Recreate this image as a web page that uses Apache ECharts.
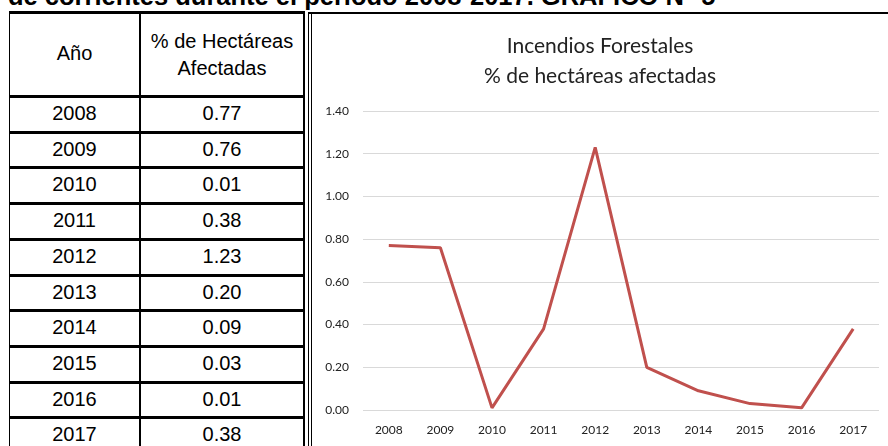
<!DOCTYPE html>
<html>
<head>
<meta charset="utf-8">
<script src="https://cdn.jsdelivr.net/npm/echarts@6/dist/echarts.min.js"></script>
<style>
  html, body { margin: 0; padding: 0; background: #fff; }
  body { width: 888px; height: 446px; position: relative; overflow: hidden; font-family: "Liberation Sans", Arial, sans-serif; }
  .abs { position: absolute; }
  .hline { position: absolute; background: #000; height: 3px; left: 9px; width: 296px; }
  .cell { position: absolute; text-align: center; font-size: 20px; color: #000; }
  #chart { position: absolute; left: 312px; top: 14px; width: 576px; height: 432px; }
</style>
</head>
<body>
<div class="abs" style="left:8px;top:-18px;font-size:25.5px;font-weight:bold;white-space:nowrap;">de corrientes durante el periodo 2008-2017. GRÁFICO N° 5</div>
<div id="table"></div>
<div class="abs" style="left:309px;top:12px;width:579px;height:2px;background:#000;"></div>
<div class="abs" style="left:308px;top:12px;width:1px;height:434px;background:#000;"></div>
<div class="abs" style="left:311px;top:12px;width:1px;height:434px;background:#000;"></div>
<div id="chart"></div>
<script>
const years = ['2008', '2009', '2010', '2011', '2012', '2013', '2014', '2015', '2016', '2017']
const pctAfectadas = [0.77, 0.76, 0.01, 0.38, 1.23, 0.20, 0.09, 0.03, 0.01, 0.38]
const headerYear = 'Año'
const headerPct = ['% de Hectáreas', 'Afectadas']
const chartTitle = ['Incendios Forestales', '% de hectáreas afectadas']

// tabla de la izquierda
const table = document.getElementById('table')
let html = ''
html += '<div class="abs" style="left:9px;top:12px;width:1px;height:434px;background:#000;"></div>'
html += '<div class="abs" style="left:139px;top:12px;width:2px;height:434px;background:#000;"></div>'
html += '<div class="abs" style="left:303px;top:12px;width:2px;height:434px;background:#000;"></div>'
html += '<div class="hline" style="top:11px;"></div>'
html += '<div class="cell" style="left:10px;width:129px;top:42px;">' + headerYear + '</div>'
html += '<div class="cell" style="left:141px;width:162px;top:28px;line-height:27px;">' + headerPct.join('<br>') + '</div>'
const rowTop = 95
const rowH = 35.7
years.forEach((y, i) => {
  const top = rowTop + i * rowH
  html += '<div class="hline" style="top:' + top.toFixed(1) + 'px;"></div>'
  html += '<div class="cell" style="left:10px;width:129px;top:' + (top + 7).toFixed(1) + 'px;">' + y + '</div>'
  html += '<div class="cell" style="left:141px;width:162px;top:' + (top + 7).toFixed(1) + 'px;">' + pctAfectadas[i].toFixed(2) + '</div>'
})
table.innerHTML = html

const chart = echarts.init(document.getElementById('chart'))
chart.setOption({
  animation: false,
  backgroundColor: '#fff',
  title: {
    text: chartTitle.join('\n'),
    left: 'center',
    top: 12,
    textStyle: {
      fontFamily: 'Lato',
      fontWeight: 'normal',
      fontSize: 21,
      lineHeight: 30,
      color: '#222',
    },
  },
  grid: {
    left: 51,
    right: 9,
    top: 97,
    bottom: 36,
  },
  xAxis: {
    type: 'category',
    data: years,
    axisLine: {show: false},
    axisTick: {show: false},
    axisLabel: {
      fontFamily: 'Lato',
      fontSize: 12,
      color: '#222',
      margin: 14,
    },
  },
  yAxis: {
    type: 'value',
    min: 0,
    max: 1.4,
    interval: 0.2,
    axisLine: {show: false},
    axisTick: {show: false},
    axisLabel: {
      fontFamily: 'Lato',
      fontSize: 12,
      color: '#222',
      margin: 14,
      formatter: (v) => v.toFixed(2),
    },
    splitLine: {
      lineStyle: {color: '#d9d9d9', width: 1},
    },
  },
  series: [{
    type: 'line',
    data: pctAfectadas,
    symbol: 'none',
    lineStyle: {color: '#c0504d', width: 3},
  }],
})
</script>
</body>
</html>
